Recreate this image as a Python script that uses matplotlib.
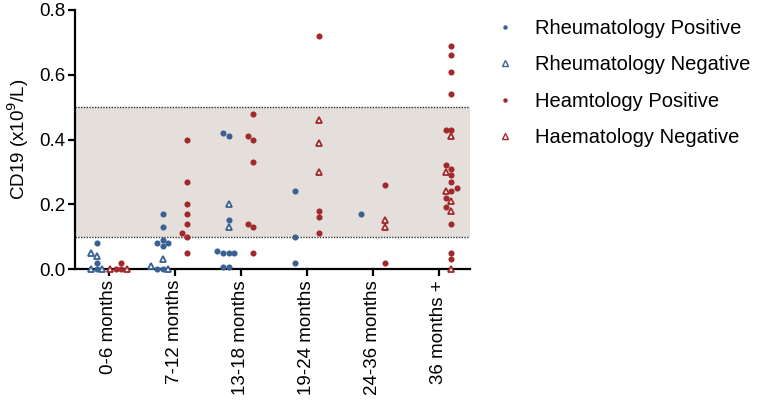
import matplotlib
matplotlib.use("Agg")
import matplotlib.pyplot as plt
from matplotlib.lines import Line2D
import numpy as np

plt.rcParams['font.family'] = ['Liberation Sans', 'DejaVu Sans']

categories = ["0-6 months", "7-12 months", "13-18 months", "19-24 months", "24-36 months", "36 months +"]

rheum_pos = [
    [0.08, 0.02, 0.0],
    [0.17, 0.13, 0.09, 0.08, 0.08, 0.07, 0.0, 0.0],
    [0.41, 0.42, 0.15, 0.05, 0.055, 0.05, 0.05, 0.006, 0.006],
    [0.24, 0.10, 0.02],
    [0.17],
    [],
]
rheum_neg = [
    [0.04, 0.05, 0.0, 0.0],
    [0.03, 0.01, 0.0],
    [0.20, 0.13],
    [],
    [],
    [],
]
haem_pos = [
    [0.02, 0.0, 0.0],
    [0.40, 0.27, 0.20, 0.17, 0.14, 0.10, 0.11, 0.05],
    [0.48, 0.40, 0.41, 0.33, 0.13, 0.14, 0.05],
    [0.72, 0.18, 0.16, 0.11],
    [0.26, 0.02],
    [0.69, 0.66, 0.61, 0.54, 0.43, 0.43, 0.32, 0.31, 0.29, 0.27, 0.25,
     0.24, 0.22, 0.19, 0.14, 0.05, 0.03],
]
haem_neg = [
    [0.0, 0.0],
    [],
    [],
    [0.46, 0.39, 0.30],
    [0.15, 0.13],
    [0.41, 0.30, 0.24, 0.21, 0.18, 0.0],
]

blue = "#3A6193"
red = "#A3282B"
band_color = "#E5DFDC"

W, H, DPI = 7.59, 4.08, 100
fig = plt.figure(figsize=(W, H), dpi=DPI)
ax = fig.add_axes([75/759, 1-269/408, (470-75)/759, (269-10)/408])
ax.set_xlim(-0.515, 5.47)
ax.set_ylim(0, 0.8)

px_per_x = 66.0
px_per_y = 259/0.8
coll = 5.0     # collision distance in px
step = 5.7     # horizontal step in px

def swarm(pos_vals, neg_vals):
    vals = [v for v in pos_vals] + [v for v in neg_vals]
    order = sorted(range(len(vals)), key=lambda i: vals[i])
    placed = []
    offs = [0.0]*len(vals)
    for i in order:
        y = vals[i]*px_per_y
        for k in [0, -1, 1, -2, 2, -3, 3, -4, 4]:
            x = k*step
            if all((x-a)**2 + (y-b)**2 >= coll**2 for a, b in placed):
                break
        placed.append((x, y))
        offs[i] = x/px_per_x
    return offs[:len(pos_vals)], offs[len(pos_vals):]

col_off = 12.3/px_per_x
for g in range(len(categories)):
    for (pv, nv, c, sgn) in [(rheum_pos[g], rheum_neg[g], blue, -1), (haem_pos[g], haem_neg[g], red, 1)]:
        po, no = swarm(pv, nv)
        cx = g + sgn*col_off
        if pv:
            ax.plot(cx + np.array(po), pv, 'o', color=c, ms=4.4, mec='none', clip_on=False, zorder=4)
        if nv:
            ax.plot(cx + np.array(no), nv, '^', mfc='white', mec=c, mew=1.3, ms=5.0, clip_on=False, zorder=5)

ax.axhspan(0.1, 0.5, color=band_color, zorder=0, lw=0)
ax.axhline(0.1, color='#333333', ls=(0, (1, 1)), lw=1.0, zorder=1)
ax.axhline(0.5, color='#333333', ls=(0, (1, 1)), lw=1.0, zorder=1)

for s in ['top', 'right']:
    ax.spines[s].set_visible(False)
for s in ['left', 'bottom']:
    ax.spines[s].set_linewidth(1.6)
    ax.spines[s].set_zorder(3)

ax.set_yticks([0.0, 0.2, 0.4, 0.6, 0.8])
ax.set_yticklabels(["0.0", "0.2", "0.4", "0.6", "0.8"])
ax.set_xticks(range(len(categories)))
ax.set_xticklabels(categories, rotation=90)
ax.tick_params(axis='both', width=1.6, length=5, labelsize=13.5, colors='black')
ax.tick_params(axis='y', pad=2)
ax.tick_params(axis='x', pad=3)
ax.set_ylabel(r"CD19 (x10$^{9}$/L)", fontsize=13.5, labelpad=6)

handles = [
    Line2D([], [], ls='none', marker='o', color=blue, ms=3.2, mec='none'),
    Line2D([], [], ls='none', marker='^', mfc='white', mec=blue, mew=1.0, ms=3.8),
    Line2D([], [], ls='none', marker='o', color=red, ms=3.2, mec='none'),
    Line2D([], [], ls='none', marker='^', mfc='white', mec=red, mew=1.0, ms=3.8),
]
labels = ["Rheumatology Positive", "Rheumatology Negative", "Heamtology Positive", "Haematology Negative"]
fig.legend(handles, labels, loc='upper left', bbox_to_anchor=(490/759, 1-19/408),
           frameon=False, fontsize=14.5, handlelength=1.5, handletextpad=0.75,
           labelspacing=0.86, borderaxespad=0, borderpad=0)

fig.savefig("out.png", dpi=DPI)
